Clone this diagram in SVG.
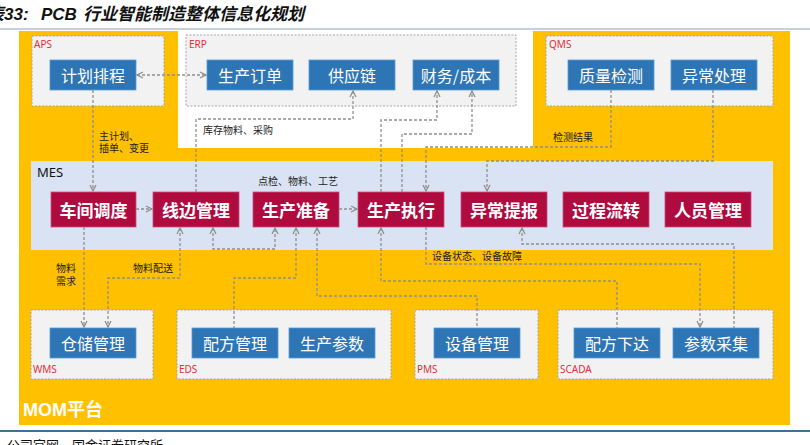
<svg xmlns="http://www.w3.org/2000/svg" width="810" height="445" viewBox="0 0 810 445">
<style>
.cont{fill:#F2F2F2;stroke:#A6A6A6;stroke-width:1;stroke-dasharray:2 1.5}
.lbl{font-family:"Noto Sans","Noto Sans CJK SC",sans-serif;font-size:10px;fill:#E0303A}
.bb{fill:#2E75B6;stroke:#5B9BD5;stroke-width:0.8}
.bt{font-family:"Noto Sans CJK SC",sans-serif;font-size:16px;fill:#fff;text-anchor:middle;dominant-baseline:central}
.rb{fill:#B00B3F;stroke:#C9507A;stroke-width:0.8}
.rt{font-family:"Noto Sans CJK SC",sans-serif;font-size:17px;font-weight:bold;fill:#fff;text-anchor:middle;dominant-baseline:central}
.sm{font-family:"Noto Sans CJK SC",sans-serif;font-size:10px;fill:#222}
.c{fill:none;stroke:#8F8F8F;stroke-width:1.3;stroke-dasharray:3 2}
</style>
<defs>
<marker id="a" viewBox="0 0 8 8" refX="7" refY="4" markerWidth="8" markerHeight="8" markerUnits="userSpaceOnUse" orient="auto-start-reverse">
<path d="M1,1 L7,4 L1,7" fill="none" stroke="#8F8F8F" stroke-width="1.3"/>
</marker>
</defs>
<rect width="810" height="445" fill="#fff"/>
<text x="-13" y="20" font-family="Liberation Sans,'Noto Sans CJK SC',sans-serif" font-size="17" font-weight="bold" font-style="italic" fill="#111"><tspan x="-13">表33:</tspan><tspan x="41">PCB</tspan><tspan x="83">行业智能制造整体信息化规划</tspan></text>
<line x1="0" y1="29" x2="810" y2="29" stroke="#8AA3B3" stroke-width="1"/>
<g id="mom">
<rect x="19" y="31" width="771" height="394" fill="#FFC000"/>
<rect x="178" y="31" width="355" height="117" fill="#fff"/>
<text x="23" y="416" font-family="Liberation Sans,'Noto Sans CJK SC',sans-serif" font-size="18" font-weight="bold" fill="#fff">MOM平台</text>
</g>
<g id="aps">
<rect class="cont" x="32" y="36" width="132" height="70"/>
<text class="lbl" x="34" y="48">APS</text>
<rect class="bb" x="50" y="60" width="86" height="30"/><text class="bt" x="93" y="75">计划排程</text>
</g>
<g id="erp">
<rect class="cont" x="186" y="35" width="330" height="71"/>
<text class="lbl" x="189" y="48">ERP</text>
<rect class="bb" x="207" y="60" width="86" height="30"/><text class="bt" x="250" y="75">生产订单</text>
<rect class="bb" x="309" y="60" width="86" height="30"/><text class="bt" x="352" y="75">供应链</text>
<rect class="bb" x="413" y="60" width="86" height="30"/><text class="bt" x="456" y="75">财务/成本</text>
</g>
<g id="qms">
<rect class="cont" x="546" y="36" width="227" height="70"/>
<text class="lbl" x="549" y="48">QMS</text>
<rect class="bb" x="568" y="60" width="86" height="30"/><text class="bt" x="611" y="75">质量检测</text>
<rect class="bb" x="671" y="60" width="86" height="30"/><text class="bt" x="714" y="75">异常处理</text>
</g>
<g id="mes">
<rect x="31" y="161" width="742" height="89" fill="#DAE3F3"/>
<text x="37" y="177" font-family="Noto Sans,sans-serif" font-size="13" fill="#111">MES</text>
<rect class="rb" x="51" y="192" width="85" height="35"/><text class="rt" x="93.5" y="209.5">车间调度</text>
<rect class="rb" x="153" y="192" width="86" height="35"/><text class="rt" x="196" y="209.5">线边管理</text>
<rect class="rb" x="253" y="192" width="86" height="35"/><text class="rt" x="296" y="209.5">生产准备</text>
<rect class="rb" x="358" y="192" width="86" height="35"/><text class="rt" x="401" y="209.5">生产执行</text>
<rect class="rb" x="461" y="192" width="86" height="35"/><text class="rt" x="504" y="209.5">异常提报</text>
<rect class="rb" x="563" y="192" width="86" height="35"/><text class="rt" x="606" y="209.5">过程流转</text>
<rect class="rb" x="665" y="192" width="86" height="35"/><text class="rt" x="708" y="209.5">人员管理</text>
</g>
<g id="wms">
<rect class="cont" x="31" y="310" width="122" height="69"/>
<text class="lbl" x="33" y="373">WMS</text>
<rect class="bb" x="50" y="328" width="86" height="30"/><text class="bt" x="93" y="343">仓储管理</text>
</g>
<g id="eds">
<rect class="cont" x="177" y="310" width="214" height="69"/>
<text class="lbl" x="179" y="373">EDS</text>
<rect class="bb" x="192" y="328" width="86" height="30"/><text class="bt" x="235" y="343">配方管理</text>
<rect class="bb" x="289" y="328" width="86" height="30"/><text class="bt" x="332" y="343">生产参数</text>
</g>
<g id="pms">
<rect class="cont" x="415" y="310" width="123" height="69"/>
<text class="lbl" x="417" y="373">PMS</text>
<rect class="bb" x="434" y="328" width="86" height="30"/><text class="bt" x="477" y="343">设备管理</text>
</g>
<g id="scada">
<rect class="cont" x="558" y="310" width="215" height="69"/>
<text class="lbl" x="560" y="373">SCADA</text>
<rect class="bb" x="574" y="328" width="86" height="30"/><text class="bt" x="617" y="343">配方下达</text>
<rect class="bb" x="673" y="328" width="86" height="30"/><text class="bt" x="716" y="343">参数采集</text>
</g>
<g id="connectors">
<path class="c" d="M137,75 H206" marker-start="url(#a)" marker-end="url(#a)"/>
<path class="c" d="M93,90 V191" marker-end="url(#a)"/>
<path class="c" d="M196,192 V119 H353 V91" marker-end="url(#a)"/>
<path class="c" d="M381,192 V120 H437 V91" marker-end="url(#a)"/>
<path class="c" d="M402,192 V134 H472 V91" marker-end="url(#a)"/>
<path class="c" d="M611,90 V147 H426 V191" marker-end="url(#a)"/>
<path class="c" d="M713,90 V161 H487 V191" marker-end="url(#a)"/>
<path class="c" d="M136,209 H152" marker-end="url(#a)"/>
<path class="c" d="M339,209 H357" marker-end="url(#a)"/>
<path class="c" d="M213,228 V249 H275 V228" marker-start="url(#a)" marker-end="url(#a)"/>
<path class="c" d="M180,228 V278 H108 V327" marker-start="url(#a)" marker-end="url(#a)"/>
<path class="c" d="M84,227 V327" marker-end="url(#a)"/>
<path class="c" d="M296,228 V278 H234 V328" marker-start="url(#a)"/>
<path class="c" d="M317,228 V296 H477 V328" marker-start="url(#a)"/>
<path class="c" d="M381,228 V281 H617 V328" marker-start="url(#a)"/>
<path class="c" d="M426,227 V264 H700 V327" marker-end="url(#a)"/>
<path class="c" d="M522,228 V244 H734 V328" marker-start="url(#a)"/>
<text class="sm" x="99" y="140">主计划、</text>
<text class="sm" x="99" y="152">插单、变更</text>
<text class="sm" x="203" y="134">库存物料、采购</text>
<text class="sm" x="553" y="141">检测结果</text>
<text class="sm" x="258" y="185">点检、物料、工艺</text>
<text class="sm" x="56" y="272">物料</text>
<text class="sm" x="56" y="285">需求</text>
<text class="sm" x="133" y="272">物料配送</text>
<text class="sm" x="432" y="260">设备状态、设备故障</text>
</g>
<line x1="0" y1="431" x2="810" y2="431" stroke="#3F7194" stroke-width="2"/>
<text x="7" y="450" font-family="'Noto Sans CJK SC',sans-serif" font-size="13" fill="#111">公司官网、国金证券研究所</text>
</svg>
